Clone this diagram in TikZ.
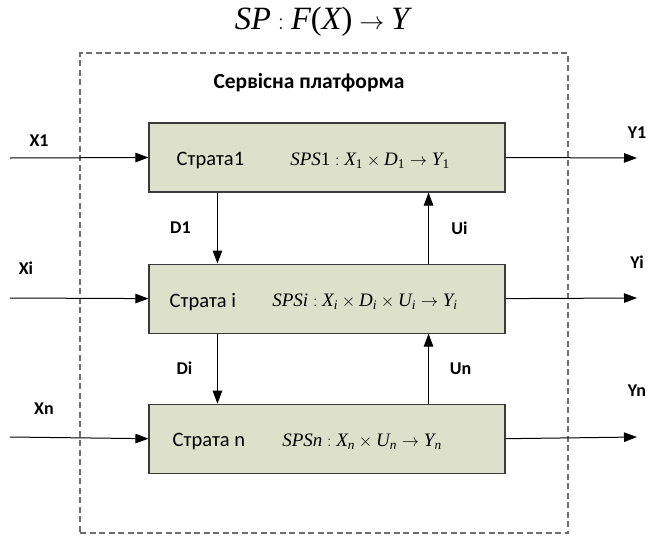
\documentclass[tikz,border=0pt]{standalone}
\usepackage{amsmath}
\usepackage[no-math]{fontspec}
\setmainfont{Carlito}
\newfontfamily\tnr{Liberation Serif}
\newcommand{\mi}[1]{\text{\tnr\itshape #1}}
\newcommand{\md}[1]{\text{\tnr #1}}
\usepackage{tikz}
\usetikzlibrary{positioning,arrows.meta}
\definecolor{stratafill}{HTML}{DDE0CB}
\definecolor{strataline}{HTML}{3A3A3A}
\definecolor{platline}{HTML}{6E6E6E}

\begin{document}
\begin{tikzpicture}[x=1pt,y=-1pt,
  strata/.style={draw=strataline,fill=stratafill,line width=1.1pt,
    minimum width=356pt,minimum height=69pt,inner sep=0pt},
  plat/.style={draw=platline,dash pattern=on 6pt off 3.5pt,line width=1.1pt,
    minimum width=488pt,minimum height=480pt,inner sep=0pt},
  nm/.style={font=\fontsize{20.5}{22}\selectfont,inner sep=0pt},
  fn/.style={font=\fontsize{19}{22}\selectfont,inner sep=0pt},
  lab/.style={font=\fontsize{18}{20}\selectfont\bfseries,inner sep=0pt},
  arr/.style={-{Triangle[length=13pt,width=9.5pt]},line width=1pt,color=black}]
\useasboundingbox (0,0) rectangle (648,544);
\node[font=\fontsize{32.5}{36}\selectfont] (title) at (322,22) {$\mi{SP}:\mi{F}\md{(}\mi{X}\md{)}\rightarrow\mi{Y}$};
\node[plat] (plat) at (324,293) {};
\node[lab,font=\fontsize{21.5}{24}\selectfont\bfseries] (platname) at (309,83) {Сервісна платформа};
% strata
\node[strata] (s1) at (327,157.5) {};
\node[strata,below=71pt of s1] (si) {};
\node[strata,below=70pt of si] (sn) {};
\node[nm,right=28pt of s1.west,yshift=-3pt] (s1n) {Страта1};
\node[nm,right=21pt of si.west,yshift=-3pt] (sin) {Страта i};
\node[nm,right=24pt of sn.west,yshift=-3pt] (snn) {Страта n};
\node[fn] (s1f) at ([xshift=43pt,yshift=-3pt]s1.center) {$\mi{SPS}\md{1}:\mi{X}_{\md{1}}\times\mi{D}_{\md{1}}\rightarrow\mi{Y}_{\md{1}}$};
\node[fn] (sif) at ([xshift=38pt,yshift=-3pt]si.center) {$\mi{SPSi}:\mi{X}_{\mi{i}}\times\mi{D}_{\mi{i}}\times\mi{U}_{\mi{i}}\rightarrow\mi{Y}_{\mi{i}}$};
\node[fn] (snf) at ([xshift=35pt,yshift=-3pt]sn.center) {$\mi{SPSn}:\mi{X}_{\mi{n}}\times\mi{U}_{\mi{n}}\rightarrow\mi{Y}_{\mi{n}}$};
% inputs and outputs
\coordinate (in1) at (10,158);
\coordinate (ini) at (10,298);
\coordinate (inn) at (10,437);
\coordinate (out1) at (637,158);
\coordinate (outi) at (637,298);
\coordinate (outn) at (637,437);
\draw[arr] (in1) -- (s1.west) node[lab,pos=0.21,yshift=17pt]{X1};
\draw[arr] (ini) -- (si.west) node[lab,pos=0.115,yshift=30pt]{Xi};
\draw[arr] (inn) -- (sn.west) node[lab,pos=0.245,yshift=29pt]{Xn};
\draw[arr] (s1.east) -- (out1) node[lab,pos=1,yshift=25pt]{Y1};
\draw[arr] (si.east) -- (outi) node[lab,pos=1,yshift=36pt]{Yi};
\draw[arr] (sn.east) -- (outn) node[lab,pos=1,yshift=46pt]{Yn};
% links between strata
\draw[arr] ([xshift=69pt]s1.south west) -- ([xshift=69pt]si.north west)
  node[lab,midway,xshift=-37pt]{D1};
\draw[arr] ([xshift=69pt]si.south west) -- ([xshift=69pt]sn.north west)
  node[lab,midway,xshift=-33pt]{Di};
\draw[arr] ([xshift=-77pt]si.north east) -- ([xshift=-77pt]s1.south east)
  node[lab,midway,xshift=31pt]{Ui};
\draw[arr] ([xshift=-77pt]sn.north east) -- ([xshift=-77pt]si.south east)
  node[lab,midway,xshift=32pt]{Un};
\end{tikzpicture}
\end{document}
